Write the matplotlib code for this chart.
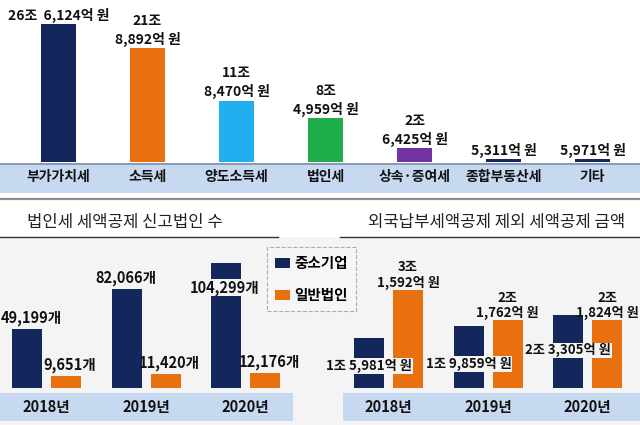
import matplotlib
matplotlib.use('Agg')
import matplotlib.pyplot as plt
from matplotlib.patches import Rectangle, Patch
from matplotlib.lines import Line2D
import numpy as np

plt.rcParams['font.family'] = ['Noto Sans CJK KR', 'DejaVu Sans']

# ---------------- data ----------------
tax_categories = ['부가가치세', '소득세', '양도소득세', '법인세', '상속·증여세', '종합부동산세', '기타']
tax_values_jo = [26.6124, 21.8892, 11.8470, 8.4959, 2.6425, 0.5311, 0.5971]
tax_labels = ['26조  6,124억 원', '21조\n8,892억 원', '11조\n8,470억 원', '8조\n4,959억 원',
              '2조\n6,425억 원', '5,311억 원', '5,971억 원']

years = ['2018년', '2019년', '2020년']
series_names = ['중소기업', '일반법인']
corp_sme = [49199, 82066, 104299]
corp_general = [9651, 11420, 12176]
corp_sme_labels = ['49,199개', '82,066개', '104,299개']
corp_general_labels = ['9,651개', '11,420개', '12,176개']

credit_sme_jo = [1.5981, 1.9859, 2.3305]
credit_general_jo = [3.1592, 2.1762, 2.1824]
credit_sme_labels = ['1조 5,981억 원', '1조 9,859억 원', '2조 3,305억 원']
credit_general_labels = ['3조\n1,592억 원', '2조\n1,762억 원', '2조\n1,824억 원']

title_left = '법인세 세액공제 신고법인 수'
title_right = '외국납부세액공제 제외 세액공제 금액'

# ---------------- style ----------------
NAVY = '#14275c'
ORANGE = '#e8700f'
top_colors = [NAVY, ORANGE, '#22aff0', '#1fae4b', '#7232a2', NAVY, NAVY]
BAND = '#c6d9f0'
LOWER_BG = '#f4f4f4'

W, H = 640, 425
fig = plt.figure(figsize=(6.4, 4.25), dpi=100)
fig.patch.set_facecolor('white')


def px_axes(l, t, r, b):
    ax = fig.add_axes([l / W, 1 - b / H, (r - l) / W, (b - t) / H])
    ax.patch.set_visible(False)
    for s in ax.spines.values():
        s.set_visible(False)
    ax.set_yticks([])
    ax.tick_params(length=0)
    return ax


def rect_px(l, t, r, b, **kw):
    fig.add_artist(Rectangle((l / W, 1 - b / H), (r - l) / W, (b - t) / H,
                             transform=fig.transFigure, **kw))


def hline_px(x0, x1, y, **kw):
    fig.add_artist(Line2D([x0 / W, x1 / W], [1 - y / H, 1 - y / H],
                          transform=fig.transFigure, **kw))


PT = 0.72  # points per pixel

# backgrounds and bands
rect_px(0, 237, 640, 425, facecolor=LOWER_BG, edgecolor='none', zorder=-5)
rect_px(0, 163, 640, 193, facecolor=BAND, edgecolor='none', zorder=-4)
hline_px(0, 640, 163.5, color='#7d8ea6', lw=1.2, zorder=-3)
hline_px(0, 640, 198.5, color='#8a8a8a', lw=1.6, zorder=-3)
rect_px(0, 393, 293, 421, facecolor=BAND, edgecolor='none', zorder=-4)
rect_px(343, 393, 640, 421, facecolor=BAND, edgecolor='none', zorder=-4)

# ---------------- top chart ----------------
ax = px_axes(14, 0, 637, 162)
x = np.arange(len(tax_categories))
ax.bar(x, tax_values_jo, width=0.39, color=top_colors)
ax.set_xlim(-0.5, len(tax_categories) - 0.5)
ax.set_ylim(0, 162 / (138 / 26.6124))
for i, (v, lbl) in enumerate(zip(tax_values_jo, tax_labels)):
    ax.annotate(lbl, (i, v), xytext=(0, 0.8), textcoords='offset points',
                ha='center', va='bottom', fontsize=10, fontweight='bold',
                linespacing=1.35, color='#111111')
ax.set_xticks(x, tax_categories, fontsize=10, fontweight='bold')
ax.tick_params(axis='x', pad=6, colors='#111111')

# ---------------- bottom-left chart ----------------
gx = np.arange(len(years))
bw = 30 / 99.5
off = 19.5 / 99.5

axl = px_axes(46.5 - 49.75, 240, 46.5 + 2 * 99.5 + 49.75, 387.5)
axl.bar(gx - off, corp_sme, width=bw, color=NAVY)
axl.bar(gx + off, corp_general, width=bw, color=ORANGE)
axl.set_xlim(-0.5, 2.5)
axl.set_ylim(0, 147.5 / (125 / 104299))
sme_dy = [3, 3, -33]
for i, (v, lbl) in enumerate(zip(corp_sme, corp_sme_labels)):
    kw = {}
    if sme_dy[i] < 0:
        kw['bbox'] = dict(boxstyle='square,pad=0.05', fc=LOWER_BG, ec='none')
    axl.annotate(lbl, (i - off, v), xytext=(4 * PT if i == 0 else -1 * PT, sme_dy[i] * PT),
                 textcoords='offset points', ha='center', va='bottom',
                 fontsize=10.5, fontweight='bold', color='#111111', **kw)
for i, (v, lbl) in enumerate(zip(corp_general, corp_general_labels)):
    axl.annotate(lbl, (i + off, v), xytext=(4 * PT, 3 * PT), textcoords='offset points',
                 ha='center', va='bottom', fontsize=10.5, fontweight='bold', color='#111111')
axl.set_xticks(gx, years, fontsize=10.5, fontweight='bold')
axl.tick_params(axis='x', pad=8.5, colors='#111111')

handles = [Patch(facecolor=NAVY), Patch(facecolor=ORANGE)]
leg = axl.legend(handles, series_names, loc='upper left',
                 bbox_to_anchor=(267 / W, 1 - 247 / H), bbox_transform=fig.transFigure,
                 prop={'weight': 'bold', 'size': 10.5}, frameon=True, fancybox=False,
                 handlelength=1.05, handleheight=0.6, handletextpad=0.25,
                 labelspacing=1.1, borderpad=0.55, borderaxespad=0)
leg.get_frame().set_edgecolor('#9a9a9a')
leg.get_frame().set_linestyle('--')
leg.get_frame().set_linewidth(0.8)
leg.get_frame().set_facecolor('#f7f7f7')

# ---------------- bottom-right chart ----------------
axr = px_axes(388.5 - 49.75, 240, 388.5 + 2 * 99.5 + 49.75, 387.5)
axr.bar(gx - off, credit_sme_jo, width=bw, color=NAVY)
axr.bar(gx + off, credit_general_jo, width=bw, color=ORANGE)
axr.set_xlim(-0.5, 2.5)
axr.set_ylim(0, 147.5 / (98 / 3.1592))
sme_in_dy = [28, 38, 35]
for i, (v, lbl) in enumerate(zip(credit_sme_jo, credit_sme_labels)):
    axr.annotate(lbl, (i - off, v), xytext=(0, -sme_in_dy[i] * PT), textcoords='offset points',
                 ha='center', va='center', fontsize=9.5, fontweight='bold', color='#111111',
                 bbox=dict(boxstyle='square,pad=0.05', fc=LOWER_BG, ec='none'))
for i, (v, lbl) in enumerate(zip(credit_general_jo, credit_general_labels)):
    axr.annotate(lbl, (i + off, v), xytext=(0, 0), textcoords='offset points',
                 ha='center', va='bottom', fontsize=9.5, fontweight='bold',
                 linespacing=1.1, color='#111111')
axr.set_xticks(gx, years, fontsize=10.5, fontweight='bold')
axr.tick_params(axis='x', pad=8.5, colors='#111111')

# ---------------- panel titles ----------------
fig.text(125 / W, 1 - 223 / H, title_left, ha='center', va='center', fontsize=12, color='#222222')
fig.text(497 / W, 1 - 222 / H, title_right, ha='center', va='center', fontsize=12, color='#222222')
hline_px(0, 278, 237, color='#333333', lw=1)
hline_px(340, 640, 237, color='#333333', lw=1)

fig.savefig('out.png', dpi=100)
